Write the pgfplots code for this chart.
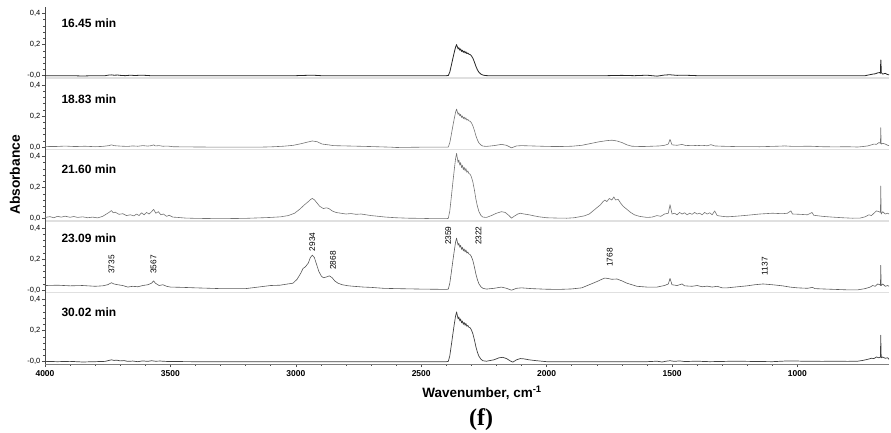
\documentclass[border=0pt]{standalone}
\usepackage{pgfplots}
\pgfplotsset{compat=1.18}
\usepackage{fontspec}
\setmainfont{Liberation Sans}
\newfontfamily\seriffont{Liberation Serif}

\pgfplotsset{
  panel/.style={
    scale only axis, width=844pt, height=71.5pt,
    anchor=south west,
    xmin=635, xmax=4000, x dir=reverse,
    ymin=-0.015, ymax=0.445,
    axis x line=bottom, axis y line=left,
    axis line style={-},
    x axis line style={draw=black!12, line width=1.6pt},
    y axis line style={draw=black!70, line width=0.8pt},
    ytick={0,0.2,0.4},
    minor y tick num=4,
    tick align=outside,
    major tick length=3pt, minor tick length=1.6pt,
    tick style={black!70, line width=0.5pt},
    yticklabel style={font=\fontsize{7.5}{8}\selectfont, inner sep=1.5pt},
    xtick=\empty,
  },
}
\tikzset{
  spec/.style={line width=0.6pt, line join=round},
  lab/.style={anchor=west, font=\bfseries\fontsize{12}{12}\selectfont},
  ann/.style={rotate=90, anchor=west, inner sep=0pt, font=\fontsize{8.3}{9}\selectfont},
}

\begin{document}
\begin{tikzpicture}
\useasboundingbox (0pt,0pt) rectangle (891pt,-432pt);

% ---- 16.45 min
\begin{axis}[panel, at={(45pt,-78pt)}, yticklabels={{-0,0},{0,2},{0,4}}]
\addplot[spec, black!85, line width=0.8pt] coordinates {
(4000,0.000) (3900,0.000) (3850,-0.002) (3800,0.000) (3760,0.000) (3745,0.004) (3735,0.005)
(3725,0.003) (3710,0.004) (3700,0.002) (3680,0.000) (3660,0.003) (3640,0.001) (3620,0.003)
(3600,0.002) (3580,0.000) (3560,0.000) (3000,0.000) (2940,0.003) (2920,0.002) (2900,0.000)
(2400,0.000) (2392,0.001) (2386,0.024) (2380,0.066) (2374,0.110) (2368,0.152) (2363,0.184)
(2359,0.200) (2356,0.186) (2353,0.172) (2350,0.180) (2346,0.164) (2343,0.172) (2339,0.156)
(2336,0.164) (2332,0.150) (2329,0.158) (2325,0.146) (2322,0.154) (2318,0.142) (2314,0.146)
(2310,0.138) (2305,0.136) (2300,0.128) (2294,0.112) (2288,0.088) (2282,0.060) (2276,0.038)
(2270,0.022) (2262,0.010) (2254,0.004) (2245,0.001) (2235,0.000) (1760,0.000) (1700,0.002)
(1650,0.000) (1600,0.003) (1560,-0.003) (1530,0.004) (1510,0.006) (1480,0.002) (1450,0.003)
(1400,0.000) (730,0.000) (715,0.005) (700,0.010) (690,0.012) (680,0.018) (672,0.020)
(669,0.015) (668,0.100) (667,0.100) (666,0.020) (660,0.010) (650,0.015) (642,0.008) (635,0.005)
};
\node[lab] at (rel axis cs:0.0154,0.76) {16.45 min};
\end{axis}

% ---- 18.83 min
\begin{axis}[panel, at={(45pt,-149.5pt)}, yticklabels={{0,0},{0,2},{0,4}}]
\addplot[spec, black!55] coordinates {
(4000,0.005) (3960,0.004) (3920,0.007) (3880,0.004) (3840,0.006) (3800,0.003) (3770,0.005)
(3745,0.010) (3735,0.015) (3725,0.010) (3710,0.008) (3690,0.006) (3670,0.005) (3650,0.008)
(3630,0.006) (3610,0.010) (3590,0.007) (3575,0.010) (3567,0.015) (3560,0.008) (3545,0.010)
(3530,0.006) (3510,0.007) (3490,0.003) (3450,0.002) (3300,0.000) (3150,0.000) (3100,0.002)
(3050,0.006) (3010,0.012) (2980,0.022) (2955,0.032) (2934,0.040) (2915,0.035) (2895,0.020)
(2870,0.015) (2850,0.010) (2800,0.008) (2750,0.006) (2700,0.004) (2620,0.000) (2600,-0.002)
(2500,0.000) (2400,0.000) (2392,0.001) (2386,0.029) (2380,0.081) (2374,0.135) (2368,0.186)
(2363,0.225) (2359,0.245) (2356,0.228) (2353,0.211) (2350,0.221) (2346,0.201) (2343,0.211)
(2339,0.191) (2336,0.201) (2332,0.184) (2329,0.194) (2325,0.179) (2322,0.189) (2318,0.174)
(2314,0.179) (2310,0.169) (2305,0.167) (2300,0.157) (2294,0.137) (2288,0.108) (2282,0.074)
(2276,0.047) (2270,0.027) (2262,0.014) (2254,0.007) (2240,0.005) (2210,0.010) (2180,0.018)
(2160,0.012) (2140,-0.004) (2120,0.008) (2100,0.010) (2060,0.008) (2000,0.005) (1950,0.004)
(1900,0.006) (1860,0.012) (1820,0.025) (1790,0.035) (1760,0.042) (1740,0.045) (1720,0.040)
(1700,0.030) (1680,0.015) (1660,0.006) (1620,0.004) (1580,0.006) (1550,0.008) (1530,0.012)
(1515,0.020) (1508,0.050) (1500,0.015) (1480,0.012) (1460,0.018) (1445,0.010) (1420,0.012)
(1400,0.010) (1380,0.012) (1360,0.009) (1345,0.016) (1330,0.008) (1300,0.006) (1250,0.004)
(1150,0.003) (1080,0.006) (1050,0.008) (1020,0.005) (950,0.006) (900,0.003) (850,0.002)
(800,0.003) (760,0.001) (740,0.004) (720,0.008) (705,0.015) (695,0.020) (685,0.018)
(675,0.030) (669,0.025) (668,0.125) (666,0.020) (660,0.025) (650,0.020) (640,0.012) (635,0.010)
};
\node[lab] at (rel axis cs:0.0154,0.70) {18.83 min};
\end{axis}

% ---- 21.60 min
\begin{axis}[panel, at={(45pt,-221pt)}, yticklabels={{0,0},{0,2},{0,4}}]
\addplot[spec, black!55] coordinates {
(4000,0.008) (3980,0.013) (3965,0.006) (3950,0.015) (3935,0.010) (3920,0.016) (3900,0.009)
(3885,0.014) (3870,0.008) (3850,0.012) (3830,0.006) (3810,0.010) (3790,0.005) (3770,0.015)
(3755,0.030) (3745,0.040) (3735,0.052) (3728,0.038) (3720,0.042) (3705,0.028) (3690,0.032)
(3675,0.020) (3660,0.025) (3645,0.018) (3635,0.030) (3625,0.020) (3615,0.038) (3605,0.025)
(3595,0.040) (3585,0.030) (3575,0.045) (3567,0.060) (3558,0.035) (3548,0.045) (3538,0.025)
(3528,0.030) (3515,0.015) (3505,0.022) (3490,0.010) (3470,0.008) (3440,0.004) (3400,0.002)
(3300,0.000) (3200,0.002) (3150,0.005) (3100,0.008) (3060,0.012) (3030,0.020) (3005,0.035)
(2985,0.060) (2965,0.090) (2950,0.110) (2940,0.125) (2934,0.130) (2925,0.120) (2915,0.100)
(2905,0.080) (2890,0.065) (2878,0.070) (2868,0.065) (2855,0.050) (2840,0.040) (2820,0.035)
(2800,0.030) (2780,0.033) (2760,0.028) (2740,0.030) (2720,0.025) (2700,0.020) (2670,0.015)
(2640,0.010) (2600,0.006) (2550,0.003) (2500,0.002) (2450,0.000) (2400,0.000) (2392,0.002)
(2386,0.050) (2380,0.139) (2374,0.231) (2368,0.319) (2363,0.386) (2359,0.420) (2356,0.391)
(2353,0.361) (2350,0.378) (2346,0.344) (2343,0.361) (2339,0.328) (2336,0.344) (2332,0.315)
(2329,0.332) (2325,0.307) (2322,0.323) (2318,0.298) (2314,0.307) (2310,0.290) (2305,0.286)
(2300,0.269) (2294,0.235) (2288,0.185) (2282,0.126) (2276,0.080) (2270,0.046) (2262,0.021)
(2254,0.010) (2240,0.008) (2220,0.020) (2200,0.035) (2180,0.045) (2165,0.040) (2150,0.020)
(2140,0.003) (2130,0.015) (2115,0.030) (2105,0.035) (2090,0.030) (2070,0.025) (2050,0.018)
(2030,0.012) (2000,0.006) (1960,0.004) (1920,0.003) (1890,0.006) (1870,0.012) (1850,0.018)
(1830,0.030) (1815,0.050) (1800,0.070) (1785,0.090) (1775,0.110) (1768,0.120) (1760,0.110)
(1750,0.130) (1740,0.120) (1732,0.140) (1725,0.120) (1715,0.125) (1705,0.100) (1695,0.080)
(1680,0.060) (1665,0.040) (1650,0.025) (1630,0.015) (1600,0.008) (1580,0.010) (1560,0.020)
(1545,0.015) (1530,0.030) (1515,0.035) (1508,0.090) (1500,0.030) (1490,0.035) (1480,0.025)
(1470,0.040) (1460,0.030) (1450,0.038) (1440,0.025) (1430,0.035) (1420,0.028) (1410,0.040)
(1400,0.030) (1390,0.035) (1380,0.025) (1370,0.040) (1360,0.030) (1350,0.038) (1340,0.025)
(1330,0.050) (1320,0.020) (1300,0.015) (1280,0.012) (1250,0.015) (1200,0.022) (1150,0.030)
(1100,0.035) (1060,0.032) (1040,0.035) (1026,0.050) (1020,0.030) (990,0.028) (960,0.025)
(942,0.040) (935,0.022) (900,0.015) (860,0.010) (820,0.006) (780,0.003) (750,0.004)
(730,0.012) (715,0.025) (705,0.020) (695,0.035) (685,0.050) (675,0.045) (669,0.040)
(668,0.210) (666,0.030) (660,0.045) (650,0.030) (640,0.035) (635,0.030)
};
\node[lab] at (rel axis cs:0.0154,0.72) {21.60 min};
\end{axis}

% ---- 23.09 min
\begin{axis}[panel, at={(45pt,-292.5pt)}, yticklabels={{-0,0},{0,2},{0,4}}]
\addplot[spec, black!65] coordinates {
(4000,0.030) (3950,0.032) (3900,0.028) (3850,0.030) (3800,0.025) (3770,0.028) (3750,0.035)
(3735,0.048) (3725,0.040) (3710,0.035) (3690,0.030) (3670,0.020) (3650,0.025) (3630,0.022)
(3610,0.030) (3590,0.035) (3575,0.045) (3567,0.060) (3560,0.045) (3545,0.030) (3530,0.035)
(3515,0.025) (3500,0.020) (3450,0.018) (3400,0.015) (3300,0.010) (3200,0.010) (3150,0.020)
(3100,0.030) (3063,0.032) (3040,0.038) (3011,0.045) (2995,0.070) (2980,0.110) (2971,0.140)
(2962,0.150) (2950,0.175) (2942,0.210) (2934,0.225) (2926,0.210) (2918,0.170) (2908,0.120)
(2898,0.090) (2890,0.080) (2878,0.085) (2866,0.092) (2855,0.080) (2845,0.060) (2832,0.045)
(2815,0.035) (2790,0.028) (2770,0.025) (2730,0.020) (2700,0.018) (2650,0.012) (2600,0.010)
(2500,0.007) (2400,0.005) (2392,0.007) (2386,0.045) (2380,0.114)
(2374,0.187) (2368,0.256) (2363,0.309) (2359,0.335) (2356,0.312) (2353,0.289) (2350,0.302)
(2346,0.276) (2343,0.289) (2339,0.262) (2336,0.276) (2332,0.253) (2329,0.266) (2325,0.246)
(2322,0.259) (2318,0.239) (2314,0.246) (2310,0.233) (2305,0.229) (2300,0.216) (2294,0.190)
(2288,0.150) (2282,0.104) (2276,0.068) (2270,0.041) (2262,0.022) (2254,0.012) (2240,0.007)
(2210,0.012) (2180,0.020) (2160,0.012) (2140,0.000) (2120,0.012) (2100,0.015) (2060,0.010)
(2000,0.006) (1950,0.005) (1900,0.008) (1860,0.015) (1830,0.035) (1800,0.055) (1780,0.070)
(1768,0.078) (1755,0.075) (1740,0.070) (1720,0.072) (1700,0.060) (1680,0.045) (1660,0.035)
(1640,0.025) (1600,0.020) (1560,0.020) (1530,0.030) (1515,0.040) (1508,0.075) (1500,0.035)
(1480,0.030) (1460,0.040) (1450,0.028) (1420,0.025) (1400,0.030) (1380,0.022) (1360,0.026)
(1340,0.020) (1320,0.025) (1300,0.015) (1280,0.015) (1250,0.020) (1200,0.028) (1170,0.035)
(1137,0.040) (1100,0.035) (1060,0.028) (1030,0.020) (1000,0.015) (960,0.012) (940,0.018)
(930,0.010) (900,0.008) (850,0.005) (800,0.002) (760,0.002) (730,0.010) (710,0.020)
(700,0.030) (690,0.025) (680,0.040) (672,0.035) (669,0.030) (668,0.160) (666,0.030)
(660,0.040) (650,0.025) (640,0.030) (635,0.025)
};
\node[lab] at (rel axis cs:0.0154,0.76) {23.09 min};
\node[ann] at (axis cs:3735,0.105) {3735};
\node[ann] at (axis cs:3567,0.105) {3567};
\node[ann] at (axis cs:2934,0.250) {2934};
\node[ann] at (axis cs:2852,0.130) {2868};
\node[ann] at (axis cs:2392,0.290) {2359};
\node[ann] at (axis cs:2272,0.290) {2322};
\node[ann] at (axis cs:1748,0.150) {1768};
\node[ann] at (axis cs:1130,0.095) {1137};
\end{axis}

% ---- 30.02 min
\begin{axis}[panel, at={(45pt,-364pt)}, yticklabels={{-0,0},{0,2},{0,4}},
  xtick={1000,1500,2000,2500,3000,3500,4000}, minor x tick num=4,
  x axis line style={draw=black!50, line width=1pt},
  xticklabel style={font=\bfseries\fontsize{8.5}{9}\selectfont},
  /pgf/number format/1000 sep={}, /pgf/number format/assume math mode=true]
\addplot[spec, black!75, line width=0.7pt] coordinates {
(4000,0.002) (3950,0.000) (3900,0.002) (3850,-0.002) (3800,0.000) (3760,0.002) (3745,0.008)
(3735,0.012) (3725,0.008) (3715,0.010) (3700,0.005) (3685,0.007) (3670,0.002) (3650,0.004)
(3630,0.000) (3610,0.005) (3590,0.002) (3575,0.006) (3560,0.003) (3540,0.004) (3520,0.002)
(3500,0.001) (3400,0.000) (2400,0.000) (2392,0.002) (2386,0.038) (2380,0.106) (2374,0.176)
(2368,0.243) (2363,0.294) (2359,0.320) (2356,0.298) (2353,0.275) (2350,0.288) (2346,0.262)
(2343,0.275) (2339,0.250) (2336,0.262) (2332,0.240) (2329,0.253) (2325,0.234) (2322,0.246)
(2318,0.227) (2314,0.234) (2310,0.221) (2305,0.218) (2300,0.205) (2294,0.179) (2288,0.141)
(2282,0.096) (2276,0.061) (2270,0.035) (2262,0.016) (2254,0.006) (2240,0.003) (2210,0.012)
(2190,0.025) (2175,0.028) (2160,0.020) (2145,0.005) (2135,-0.003) (2120,0.012) (2105,0.020)
(2090,0.018) (2070,0.012) (2050,0.008) (2020,0.003) (2000,0.000) (1600,0.000) (1560,0.003)
(1540,-0.002) (1520,0.004) (1508,0.006) (1490,0.002) (1470,0.005) (1450,0.001) (1400,0.003)
(1350,0.000) (1250,0.003) (1200,0.002) (1100,0.000) (1050,0.004) (1020,0.005) (980,0.003)
(900,0.002) (850,0.003) (800,0.002) (760,0.003) (740,0.008) (720,0.015) (705,0.022)
(695,0.020) (685,0.030) (675,0.025) (669,0.030) (668,0.170) (666,0.025) (660,0.030)
(650,0.022) (640,0.025) (635,0.015)
};
\node[lab] at (rel axis cs:0.0154,0.73) {30.02 min};
\end{axis}

\node[rotate=90, font=\bfseries\fontsize{13.8}{14}\selectfont] at (15pt,-175pt) {Absorbance};
\node[font=\bfseries\fontsize{13.5}{14}\selectfont] at (482pt,-393pt) {Wavenumber, cm\textsuperscript{-1}};
\node[font=\seriffont\bfseries\fontsize{24}{24}\selectfont] at (481pt,-420pt) {(f)};
\end{tikzpicture}
\end{document}
